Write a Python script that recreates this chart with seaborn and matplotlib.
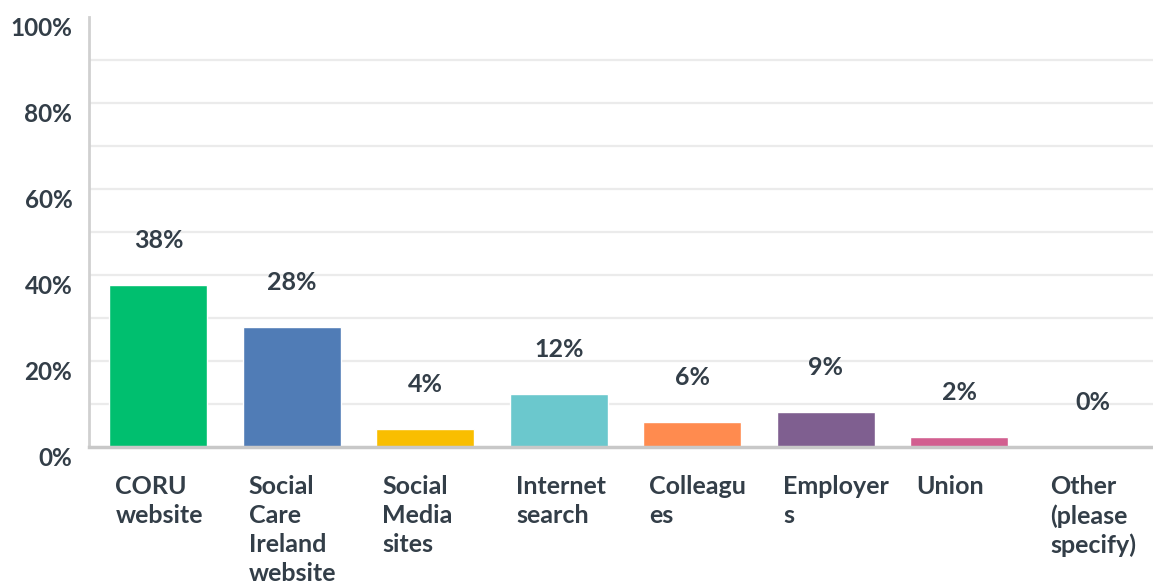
import numpy as np
import pandas as pd
import matplotlib
matplotlib.use("Agg")
import matplotlib.pyplot as plt
import matplotlib.transforms as mtransforms
import seaborn as sns

categories = ["CORU website", "Social Care Ireland website", "Social Media sites",
              "Internet search", "Colleagues", "Employers", "Union", "Other (please specify)"]
tick_labels = ["CORU\nwebsite", "Social\nCare\nIreland\nwebsite", "Social\nMedia\nsites",
               "Internet\nsearch", "Colleagu\nes", "Employer\ns", "Union", "Other\n(please\nspecify)"]
values = [37.7, 27.9, 4.2, 12.3, 5.8, 8.2, 2.3, 0.0]
value_labels = ["38%", "28%", "4%", "12%", "6%", "9%", "2%", "0%"]
colors = ["#00BF6F", "#507CB6", "#F9BE00", "#6BC8CD", "#FF8B4F", "#7F5F90", "#D25F90", "#A8A8A8"]

df = pd.DataFrame({"category": categories, "value": values})

sns.set_style("white")
plt.rcParams["font.family"] = ["Lato", "DejaVu Sans"]
text_color = "#333e48"

fig = plt.figure(figsize=(11.53, 5.83), dpi=100)
ax = fig.add_axes([89 / 1153, 136 / 583, 1064 / 1153, 430 / 583])

# light horizontal grid every 10%
for y in range(10, 100, 10):
    ax.axhline(y, color="#ebebeb", linewidth=1.6, zorder=0)

sns.barplot(data=df, x="category", y="value", hue="category", palette=colors,
            width=0.734, legend=False, ax=ax, zorder=2, saturation=1)

for i, (v, lab) in enumerate(zip(values, value_labels)):
    ax.annotate(lab, (i, v), xytext=(0, 32), textcoords="offset points",
                ha="center", va="center", fontsize=18, fontweight="bold", color=text_color)

ax.set_xlim(-0.52, 7.45)
ax.set_ylim(0, 100)
ax.set_xlabel("")
ax.set_ylabel("")

ax.set_yticks(range(0, 101, 20))
ax.set_yticklabels([f"{t}%" for t in range(0, 101, 20)], fontsize=17.5,
                   fontweight="bold", color=text_color)
ax.tick_params(axis="y", length=0, pad=12)
shift_down = mtransforms.ScaledTranslation(0, -0.09, fig.dpi_scale_trans)
for lab in ax.get_yticklabels():
    lab.set_transform(lab.get_transform() + shift_down)

ax.set_xticks(range(len(categories)))
ax.set_xticklabels(tick_labels, fontsize=18, fontweight="bold", color=text_color,
                   ha="left", va="top", linespacing=1.32)
ax.tick_params(axis="x", length=0, pad=20)
shift_left = mtransforms.ScaledTranslation(-0.43, 0, fig.dpi_scale_trans)
for lab in ax.get_xticklabels():
    lab.set_transform(lab.get_transform() + shift_left)

for side in ["top", "right"]:
    ax.spines[side].set_visible(False)
ax.spines["left"].set_color("#d0d0d0")
ax.spines["left"].set_linewidth(2)
ax.spines["bottom"].set_color("#c8c8c8")
ax.spines["bottom"].set_linewidth(2.5)

fig.savefig("out.png", dpi=100, facecolor="white")
